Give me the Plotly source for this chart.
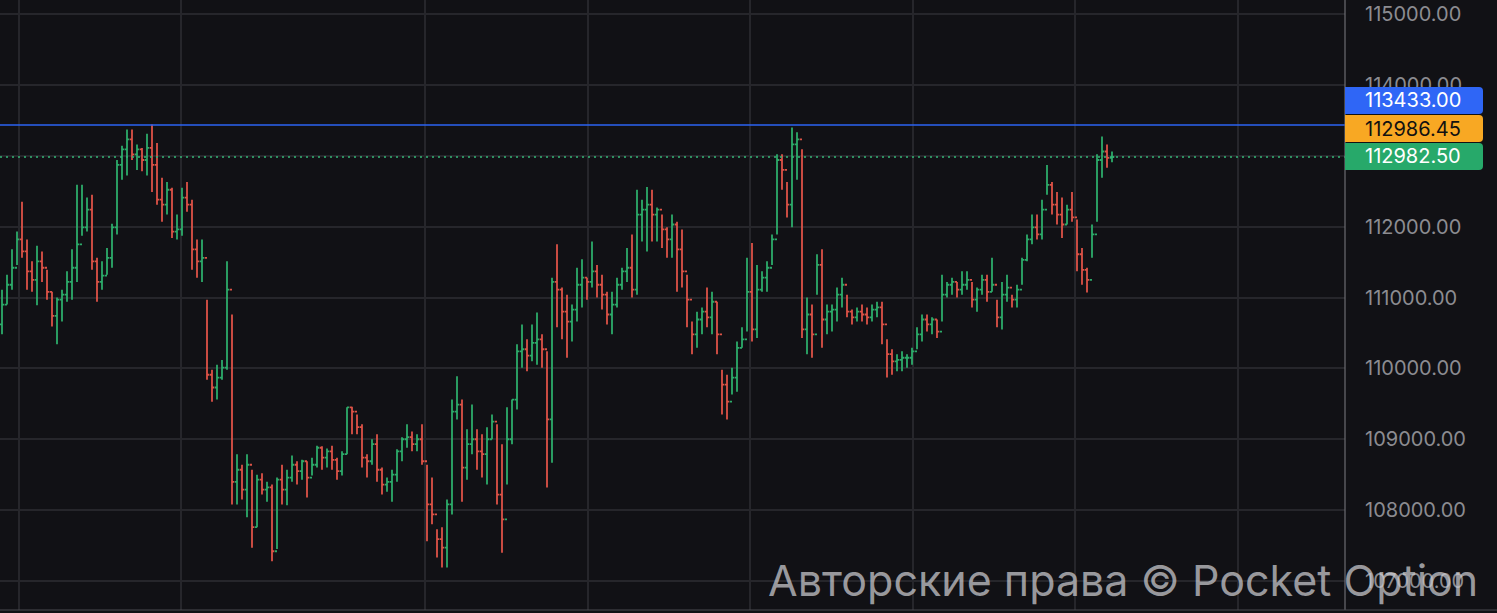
import plotly.graph_objects as go

# ---------------- data ----------------
closes = [
    110900, 111180, 111420, 111820, 111650, 111370, 111250, 111510, 111420, 111080,
    110740, 110970, 111040, 111220, 111420, 111750, 111990, 112240, 111510, 111220,
    111310, 111560, 111990, 112870, 113090, 113230, 113020, 113090, 112940, 113110,
    112870, 112380, 112310, 112520, 111930, 111960, 112410, 112310, 111680, 111510,
    111560, 109910, 109730, 109870, 110010, 111110, 108400, 108570, 108290, 108640,
    107760, 108430, 108290, 108320, 107420, 108430, 108290, 108460, 108640, 108550,
    108690, 108460, 108640, 108880, 108740, 108830, 108710, 108550, 108790, 109450,
    109390, 109170, 108740, 108690, 108930, 108570, 108360, 108400, 108500, 108830,
    109000, 109030, 108930, 109000, 108690, 108080, 107940, 107590, 107470, 108080,
    109390, 109490, 108600, 108930, 109000, 108830, 108790, 109000, 109250, 108220,
    107870, 109000, 109560, 110240, 110270, 110180, 110360, 110410, 110270, 109280,
    111220, 111110, 110800, 110660, 110830, 111180, 111280, 111220, 111370, 111180,
    111040, 110760, 110900, 111180, 111370, 111420, 111110, 112170, 112240, 112310,
    112170, 112240, 111960, 111820, 112030, 111680, 111370, 110970, 110480, 110690,
    110800, 110720, 110940, 110480, 109770, 109530, 109870, 110290, 110410, 111080,
    110550, 111110, 111280, 111420, 111820, 112940, 112800, 112310, 113160, 113230,
    110550, 110760, 110480, 111460, 110690, 110800, 110830, 111040, 111180, 110800,
    110720, 110800, 110760, 110720, 110830, 110860, 110620, 110200, 110100, 110120,
    110150, 110150, 110240, 110480, 110690, 110620, 110690, 110520, 111040, 111180,
    111220, 111110, 111180, 111250, 110970, 111110, 111250, 111080, 111180, 110720,
    111040, 111140, 110970, 111110, 111530, 111820, 111990, 111890, 112240, 112590,
    112310, 112170, 112030, 112240, 112130, 111610, 111390, 111250, 111890, 112940,
    113060, 112970, 112982.5,
]
highs = [
    111110, 111320, 111680, 111930, 112350, 111820, 111510, 111730, 111650, 111390,
    111080, 111000, 111110, 111370, 111680, 112590, 112590, 112410, 112450, 111560,
    111510, 111700, 112040, 112940, 113140, 113370, 113370, 113160, 113110, 113310,
    113440, 113180, 112690, 112630, 112550, 112170, 112550, 112630, 112380, 111820,
    111820, 110970, 109980, 110050, 110120, 111510, 110760, 108790, 108640, 108790,
    108570, 108500, 108520, 108400, 108360, 108460, 108640, 108570, 108770, 108690,
    108710, 108690, 108740, 108910, 108900, 108870, 108910, 108740, 108830, 109450,
    109460, 109350, 109210, 108790, 109000, 109070, 108600, 108460, 108570, 108860,
    109030, 109210, 109110, 109070, 109210, 108640, 108460, 107730, 107760, 108150,
    109560, 109890, 109560, 109140, 109490, 109140, 109070, 109170, 109350, 109210,
    108930, 109450, 109560, 110340, 110620, 110410, 110620, 110790, 110480, 110240,
    111280, 111750, 111140, 111040, 110900, 111420, 111540, 111280, 111790, 111460,
    111320, 111080, 111080, 111280, 111420, 111700, 111890, 112520, 112380, 112560,
    112520, 112270, 112170, 111990, 112170, 112070, 111960, 111320, 110660, 110800,
    110860, 111140, 111080, 110940, 109980, 109910, 110010, 110380, 110580, 111560,
    111770, 111460, 111370, 111510, 111890, 113020, 113020, 112630, 113400, 113330,
    113090, 111000, 110900, 111610, 111680, 110900, 110900, 111140, 111280, 111040,
    110830, 110860, 110900, 110860, 110900, 110940, 110940, 110410, 110270, 110200,
    110240, 110200, 110290, 110580, 110760, 110760, 110720, 110690, 111320, 111220,
    111280, 111220, 111370, 111370, 111220, 111140, 111320, 111320, 111560, 110970,
    111220, 111320, 111040, 111180, 111560, 111890, 112170, 112170, 112380, 112870,
    112630, 112490, 112410, 112310, 112490, 112100, 111700, 111420, 112030, 113020,
    113270, 113160, 113060,
]
lows = [
    110480, 110900, 111110, 111460, 111560, 111110, 111080, 110890, 111220, 110970,
    110590, 110340, 110660, 110940, 110970, 111220, 111870, 111930, 111390, 110940,
    111110, 111320, 111420, 111890, 112660, 112720, 112940, 112800, 112780, 112720,
    112490, 112310, 112070, 112170, 111840, 111820, 111870, 112210, 111390, 111280,
    111220, 109840, 109530, 109560, 109840, 109980, 108080, 108080, 108150, 107900,
    107470, 107760, 108220, 108120, 107280, 107450, 108080, 108070, 108400, 108360,
    108430, 108180, 108490, 108600, 108570, 108600, 108570, 108430, 108490, 108790,
    109070, 109070, 108600, 108460, 108640, 108400, 108220, 108260, 108120, 108400,
    108690, 108880, 108830, 108830, 108640, 107560, 107800, 107330, 107190, 107190,
    107940, 109280, 108120, 108430, 108790, 108570, 108460, 108360, 109000, 108080,
    107400, 108360, 108930, 109420, 110010, 109960, 110100, 110050, 110010, 108320,
    108670, 110580, 110410, 110150, 110380, 110660, 110860, 110970, 111140, 111000,
    110830, 110620, 110480, 110860, 111110, 111220, 111000, 111040, 111790, 111650,
    111790, 111790, 111700, 111560, 111560, 111080, 111140, 110580, 110200, 110290,
    110480, 110580, 110480, 110200, 109350, 109280, 109630, 109670, 110290, 110520,
    110380, 110430, 111080, 111080, 111460, 111890, 112520, 112130, 111990, 112660,
    110430, 110200, 110150, 111040, 110290, 110480, 110520, 110660, 110860, 110720,
    110620, 110660, 110660, 110620, 110660, 110720, 110340, 109870, 109910, 109960,
    109960, 110010, 110050, 110270, 110380, 110520, 110480, 110430, 110660, 111000,
    111040, 111000, 111040, 111110, 110860, 110800, 111040, 110940, 111080, 110580,
    110550, 110940, 110860, 110860, 111180, 111510, 111750, 111820, 111820, 112450,
    112170, 112030, 111840, 112030, 112070, 111370, 111180, 111070, 111560, 112070,
    112690, 112830, 112910,
]
first_open = 110620
opens = [first_open] + closes[:-1]
candle_idx = list(range(len(closes)))

price_ticks = [107000, 108000, 109000, 110000, 111000, 112000, 113000, 114000, 115000]
tick_labels = [f"{v:.2f}" for v in price_ticks]
grid_times = [3.4, 35.8, 84.6, 117.2, 149.6, 182.2, 214.6, 247.2]

level_blue = 113433.00
level_green = 112982.50
labels = [("113433.00", "#2f66f6", "#ffffff"),
          ("112986.45", "#f8a823", "#111111"),
          ("112982.50", "#27a96a", "#ffffff")]
watermark = "Авторские права © Pocket Option"

# ---------------- styling ----------------
W, H = 1497, 613
MB = 3
PH = H - MB
AXIS_PX = 1345
XD = AXIS_PX / W
BG = "#111115"
GRID = "#26262b"
GREEN = "#2fb46f"
RED = "#e8574a"
LABEL_GRAY = "#8c8c91"


def px2paper(px, py):
    return px / W, 1 - py / PH


fig = go.Figure(go.Ohlc(
    x=candle_idx, open=opens, high=highs, low=lows, close=closes,
    increasing=dict(line=dict(color=GREEN, width=1.8)),
    decreasing=dict(line=dict(color=RED, width=1.8)),
    tickwidth=0.45, hoverinfo="skip", showlegend=False, opacity=0.95,
))

shapes = [
    dict(type="line", xref="paper", yref="y", x0=0, x1=XD, y0=level_blue, y1=level_blue,
         line=dict(color="#2b63f3", width=1.5), layer="above"),
    dict(type="line", xref="paper", yref="y", x0=0, x1=XD, y0=level_green, y1=level_green,
         line=dict(color="#34b877", width=1.5, dash="2px,4px"), layer="above"),
    dict(type="line", xref="paper", yref="paper", x0=XD, x1=XD, y0=0, y1=1,
         line=dict(color="#6d6d72", width=1.2), layer="above"),
    dict(type="line", xref="paper", yref="paper", x0=0, x1=1, y0=0, y1=0,
         line=dict(color="#4a4a50", width=1.2), layer="above"),
]

annotations = []
box_tops = [87, 115, 143]
box_h = 27
left, right, r = AXIS_PX, 1483, 4
for (txt, col, fcol), top in zip(labels, box_tops):
    bot = top + box_h
    pts = [("M", left, top), ("L", right - r, top), ("Q", right, top, right, top + r),
           ("L", right, bot - r), ("Q", right, bot, right - r, bot), ("L", left, bot)]
    path = ""
    for p in pts:
        if p[0] == "Q":
            a = px2paper(p[1], p[2]); b = px2paper(p[3], p[4])
            path += f"Q{a[0]:.6f},{a[1]:.6f} {b[0]:.6f},{b[1]:.6f} "
        else:
            a = px2paper(p[1], p[2])
            path += f"{p[0]}{a[0]:.6f},{a[1]:.6f} "
    path += "Z"
    shapes.append(dict(type="path", xref="paper", yref="paper", path=path,
                       fillcolor=col, line=dict(width=0), layer="above"))
    cx, cy = px2paper((left + right) / 2 - 1, top + box_h / 2)
    annotations.append(dict(x=cx, y=cy, xref="paper", yref="paper", text=txt,
                            showarrow=False, xanchor="center", yanchor="middle",
                            font=dict(family="Inter", size=20, color=fcol)))

wx, wy = px2paper(1480, 580)
annotations.append(dict(x=wx, y=wy, xref="paper", yref="paper", text=watermark,
                        showarrow=False, xanchor="right", yanchor="middle",
                        font=dict(family="Inter", size=43, color="rgba(205,205,210,0.72)")))

fig.update_layout(
    width=W, height=H,
    margin=dict(l=0, r=0, t=0, b=MB),
    paper_bgcolor=BG, plot_bgcolor=BG,
    showlegend=False,
    shapes=shapes, annotations=annotations,
    xaxis=dict(domain=[0, XD], range=[-0.4, 268.6], rangeslider=dict(visible=False),
               tickvals=grid_times, showticklabels=False, ticks="",
               showgrid=True, gridcolor=GRID, gridwidth=2, zeroline=False, showline=False),
    yaxis=dict(side="right", range=[106591, 115197.5], tickvals=price_ticks, ticktext=tick_labels,
               tickfont=dict(family="Inter", size=20, color=LABEL_GRAY), ticks="",
               ticklabelstandoff=19,
               showgrid=True, gridcolor=GRID, gridwidth=2, zeroline=False, showline=False),
)

fig.write_html(
    "out.html",
    config={"displayModeBar": False, "staticPlot": True},
    post_script="document.body.style.margin='0';document.body.style.overflow='hidden';"
                "document.body.style.background='" + BG + "';",
)
